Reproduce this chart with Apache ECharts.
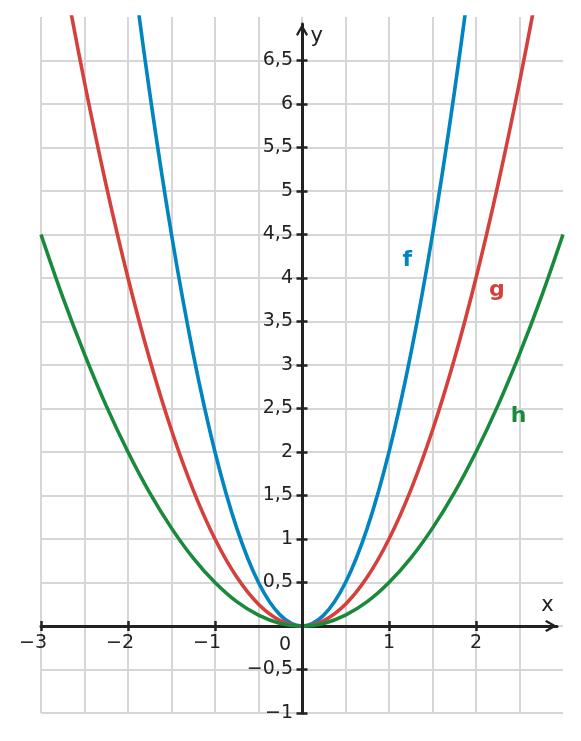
<!DOCTYPE html>
<html>
<head>
<meta charset="utf-8">
<script src="https://cdn.jsdelivr.net/npm/echarts@6/dist/echarts.min.js"></script>
<style>html,body{margin:0;padding:0;background:#fff}#c{width:581px;height:741px}</style>
</head>
<body>
<div id="c"></div>
<script>
// x positions
const xValues = [-3, -2.75, -2.5, -2.25, -2, -1.75, -1.5, -1.25, -1, -0.75, -0.5, -0.25, 0, 0.25, 0.5, 0.75, 1, 1.25, 1.5, 1.75, 2, 2.25, 2.5, 2.75, 3];
// curve values
const fValues = [18, 15.125, 12.5, 10.125, 8, 6.125, 4.5, 3.125, 2, 1.125, 0.5, 0.125, 0, 0.125, 0.5, 1.125, 2, 3.125, 4.5, 6.125, 8, 10.125, 12.5, 15.125, 18];
const gValues = [9, 7.5625, 6.25, 5.0625, 4, 3.0625, 2.25, 1.5625, 1, 0.5625, 0.25, 0.0625, 0, 0.0625, 0.25, 0.5625, 1, 1.5625, 2.25, 3.0625, 4, 5.0625, 6.25, 7.5625, 9];
const hValues = [4.5, 3.78, 3.125, 2.53, 2, 1.53, 1.125, 0.78, 0.5, 0.28, 0.125, 0.03, 0, 0.03, 0.125, 0.28, 0.5, 0.78, 1.125, 1.53, 2, 2.53, 3.125, 3.78, 4.5];
const seriesNames = ['f', 'g', 'h'];
const seriesColors = ['#0085c1', '#d6403c', '#198a3c'];
const xTickLabels = [-3, -2, -1, 1, 2];
const yTickLabels = [-1, -0.5, 0.5, 1, 1.5, 2, 2.5, 3, 3.5, 4, 4.5, 5, 5.5, 6, 6.5];

const FONT = 'DejaVu Sans';
const AX = '#222222';
const FS = 19;
const fmt = v => String(v).replace('.', ',').replace('-', '\u2212');
const chevron = 'path://M6,0 L12,10.5 L10.2,12 L6,4.6 L1.8,12 L0,10.5 Z';
const pts = vals => xValues.map((x, i) => [x, vals[i]]);

const chart = echarts.init(document.getElementById('c'), null, {renderer: 'canvas'});

const noAxis = {show: false};
const gridCommon = {outerBoundsMode: 'none', containLabel: false};

const option = {
  animation: false,
  backgroundColor: '#ffffff',
  grid: [
    Object.assign({left: 41, top: 17, width: 522, height: 696}, gridCommon),
    Object.assign({left: 302, top: 24, width: 255, height: 689}, gridCommon),
    Object.assign({left: 41, top: 24, width: 516, height: 602}, gridCommon)
  ],
  xAxis: [
    {type: 'value', gridIndex: 0, min: -3, max: 3, interval: 0.5,
     axisLine: noAxis, axisTick: noAxis, axisLabel: noAxis,
     splitLine: {show: true, showMaxLine: false, lineStyle: {color: '#d6d6d6', width: 2}}},
    {type: 'value', gridIndex: 1, min: 0, max: 2.931, show: false},
    {type: 'value', gridIndex: 2, min: -3, max: 2.931, interval: 1, position: 'bottom', z: 1,
     axisLine: {show: true, onZero: false,
       symbol: ['none', chevron], symbolSize: [12, 12], symbolOffset: [0, -6],
       lineStyle: {color: AX, width: 3}},
     axisTick: {show: true, length: 5, lineStyle: {color: AX, width: 2.5}, customValues: xTickLabels},
     axisLabel: {show: true, customValues: xTickLabels, margin: 8, color: AX, fontFamily: FONT, fontSize: FS,
       formatter: v => v < 0 ? '{n|' + fmt(v) + '}' : fmt(v),
       rich: {n: {fontFamily: FONT, fontSize: FS, color: AX, padding: [0, 16, 0, 0]}}},
     splitLine: {show: false}},
    {type: 'value', gridIndex: 2, min: -3, max: 2.931, interval: 1, position: 'bottom', z: 1,
     axisLine: {show: false, onZero: false},
     axisTick: {show: true, inside: true, length: 5, lineStyle: {color: AX, width: 2.5}, customValues: xTickLabels},
     axisLabel: {show: false}, splitLine: {show: false}}
  ],
  yAxis: [
    {type: 'value', gridIndex: 0, min: -1, max: 7, interval: 0.5,
     axisLine: noAxis, axisTick: noAxis, axisLabel: noAxis,
     splitLine: {show: true, showMaxLine: false, lineStyle: {color: '#d6d6d6', width: 2}}},
    {type: 'value', gridIndex: 1, min: -1, max: 6.92, interval: 0.5, position: 'left', z: 5,
     axisLine: {show: true, onZero: false,
       symbol: ['none', chevron], symbolSize: [12, 12], symbolOffset: [0, -6],
       lineStyle: {color: AX, width: 3}},
     axisTick: {show: true, length: 5.5, lineStyle: {color: AX, width: 2.5}, customValues: yTickLabels},
     axisLabel: {show: true, customValues: yTickLabels, margin: 9, color: AX, fontFamily: FONT, fontSize: FS,
       formatter: v => fmt(v)},
     splitLine: {show: false}},
    {type: 'value', gridIndex: 1, min: -1, max: 6.92, interval: 0.5, position: 'left', z: 5,
     axisLine: {show: false, onZero: false},
     axisTick: {show: true, inside: true, length: 5.5, lineStyle: {color: AX, width: 2.5}, customValues: yTickLabels},
     axisLabel: {show: false}, splitLine: {show: false}},
    {type: 'value', gridIndex: 2, min: 0, max: 6.92, show: false}
  ],
  series: [fValues, gValues, hValues].map((vals, i) => ({
    name: seriesNames[i], type: 'line', xAxisIndex: 0, yAxisIndex: 0,
    data: pts(vals), smooth: 0.35, symbol: 'none', clip: true, z: 3,
    lineStyle: {color: seriesColors[i], width: 3.6}
  }))
};
chart.setOption(option);

// annotation anchors in data units
const annotations = [
  {text: 'f', at: [1.21, 4.2], color: seriesColors[0], bold: true, size: 22},
  {text: 'g', at: [2.24, 3.86], color: seriesColors[1], bold: true, size: 22},
  {text: 'h', at: [2.49, 2.41], color: seriesColors[2], bold: true, size: 22},
  {text: '0', at: [-0.195, -0.22], color: AX, bold: false, size: FS},
  {text: 'x', at: [2.82, 0.23], color: AX, bold: false, size: 21},
  {text: 'y', at: [0.17, 6.77], color: AX, bold: false, size: 21}
];
chart.setOption({
  graphic: annotations.map(a => {
    const p = chart.convertToPixel({xAxisIndex: 0, yAxisIndex: 0}, a.at);
    return {type: 'text', x: p[0], y: p[1], z: 10,
      style: {text: a.text, fill: a.color, fontFamily: FONT, fontSize: a.size,
        fontWeight: a.bold ? 'bold' : 'normal', align: 'center', verticalAlign: 'middle'}};
  })
});
</script>
</body>
</html>
